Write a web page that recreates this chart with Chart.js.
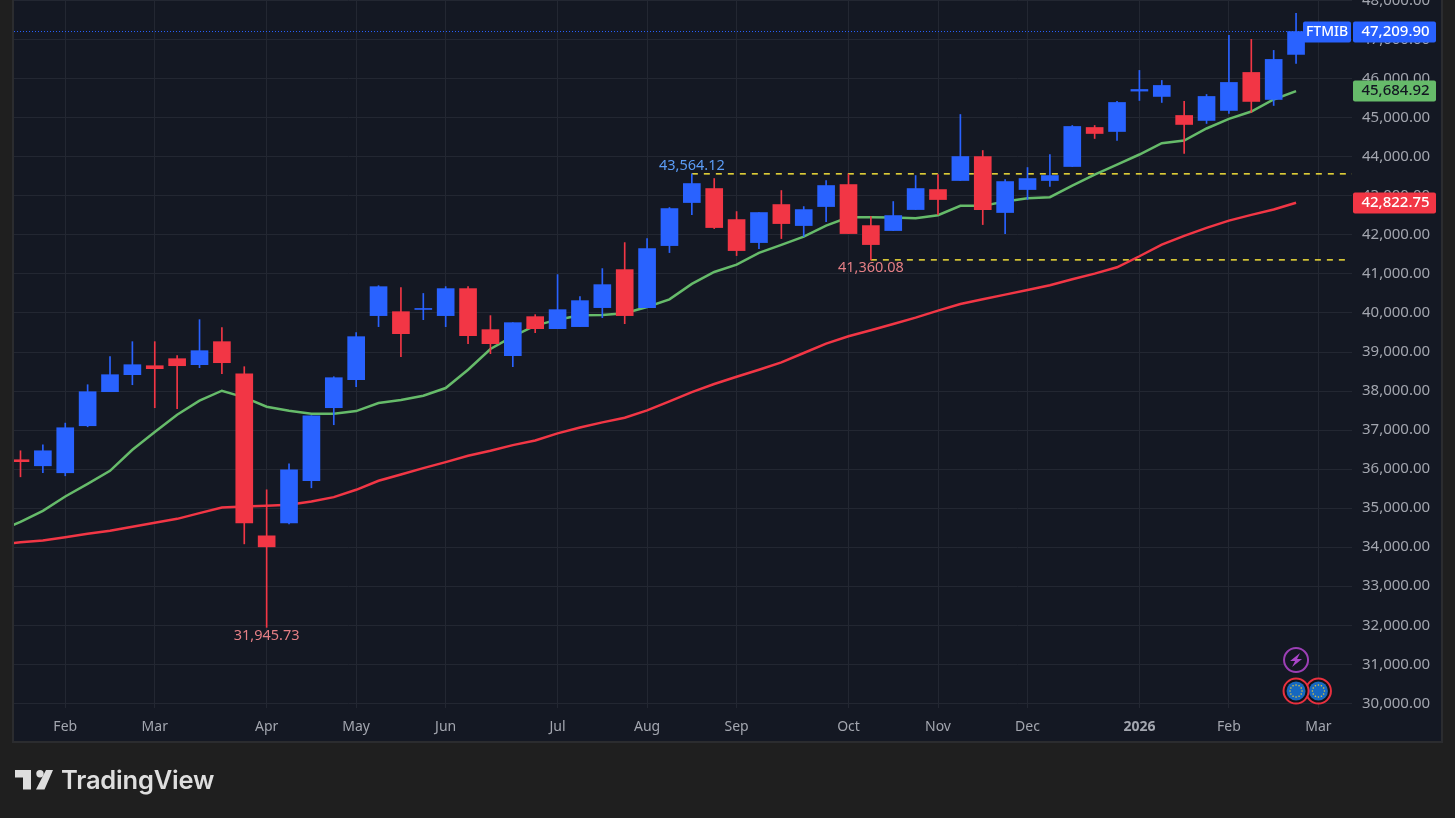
<!DOCTYPE html>
<html>
<head>
<meta charset="utf-8">
<title>FTMIB</title>
<script src="https://cdn.jsdelivr.net/npm/chart.js@4"></script>
<style>
html, body { margin: 0; padding: 0; background: #1f1f1f; overflow: hidden; }
#wrap { position: relative; width: 1455px; height: 818px; }
#myChart { display: block; }
#logoMark { position: absolute; left: 15px; top: 770px; }
#logoText { position: absolute; left: 61px; top: 764px; font: 600 25.5px Inter, sans-serif; color: #dedede; letter-spacing: -0.2px; }
</style>
</head>
<body>
<div id="wrap">
    <canvas id="myChart" width="1455" height="818"></canvas>
    <svg id="logoMark" width="38" height="20" viewBox="0 0 38 20">
        <path d="M0 0H16V19.5H8V7.5H0Z M31 0H38L29.5 19.5H21Z" fill="#dedede"/>
        <circle cx="25" cy="3.7" r="3.7" fill="#dedede"/>
    </svg>
    <div id="logoText">TradingView</div>
</div>
<script>
// weekly candles
var opens = [36240,36085,35906,37111,37983,38419,38649,38829,38675,39265,38444,34291,34624,35701,37573,38291,39932,40033,40090,39932,
    40624,39573,38906,39906,39598,39650,40137,41111,40137,41726,42829,43188,42393,41803,42778,42239,42726,43290,42239,42111,
    42649,43162,43393,44008,42573,43162,43393,43752,44752,44649,45684,45547,45060,44932,45188,46162,45470,46624];
var highs = [36470,36624,37179,38162,38880,39265,39265,38906,39829,39624,38624,35470,36137,37367,38367,39496,40700,40650,40500,40675,
    40675,39932,39752,39957,40983,40419,41137,41803,41906,42701,43564.12,43444,42598,42573,43137,42726,43393,43560,42470,42855,
    43521,43547,45085,44162,43419,43726,44060,44803,44803,45419,46214,45957,45419,45598,47111,47009,46727,47675];
var lows = [35803,35906,35829,37085,37983,38162,37573,37547,38598,38444,34085,31945.73,34598,35521,37137,38111,39650,38880,39829,39650,
    39214,38957,38624,39496,39598,39650,39880,39726,40137,41547,42521,42162,41470,41649,41906,41957,42342,42034,41360.08,42111,
    42649,42521,43393,42265,42034,42906,43239,43752,44470,44419,45444,45393,44085,44855,45111,45137,45316,46393];
var closes = [36190,36470,37060,37983,38419,38675,38573,38649,39034,38726,34624,34009,35983,37367,38342,39393,40674,39470,40116,40624,
    39419,39214,39752,39598,40085,40316,40726,39932,41649,42675,43316,42188,41598,42573,42290,42649,43265,42034,41752,42496,
    43188,42906,44008,42649,43367,43444,43521,44778,44598,45393,45726,45829,44829,45547,45906,45419,46496,47209.90];

// moving averages, first value sits one week before the first candle
var greenMa = [34402,34650,34932,35299,35624,35957,36496,36949,37393,37752,38008,37838,37598,37496,37419,37419,37487,37692,37769,37880,38077,
    38547,39077,39402,39675,39829,39940,39949,39991,40154,40350,40744,41051,41239,41538,41744,41957,42239,42453,42453,42444,
    42427,42504,42744,42744,42855,42940,42966,43265,43547,43803,44060,44350,44419,44726,44974,45162,45470,45684.92];
var redMa = [34060,34128,34171,34256,34342,34419,34521,34624,34726,34872,35017,35043,35060,35085,35171,35282,35470,35701,35863,36026,36179,
    36342,36470,36615,36735,36915,37068,37197,37316,37504,37735,37974,38179,38367,38547,38735,38974,39214,39402,39556,39718,
    39880,40060,40231,40350,40470,40590,40709,40863,41009,41171,41453,41752,41974,42179,42367,42513,42650,42822.75];

var monthWeeks = [2,6,11,15,19,24,28,32,37,41,45,50,54,58];
var monthLabels = ["Feb","Mar","Apr","May","Jun","Jul","Aug","Sep","Oct","Nov","Dec","2026","Feb","Mar"];
var priceTicks = [30000,31000,32000,33000,34000,35000,36000,37000,38000,39000,40000,41000,42000,43000,44000,45000,46000,47000,48000];

var highLevel = 43564.12;
var lowLevel = 41360.08;
var absLow = 31945.73;
var lastPrice = 47209.90;
var lastGreen = 45684.92;
var lastRed = 42822.75;

var BLUE = "#2962ff";
var RED = "#f23645";
var GREEN = "#66bb6a";
var FONT = '"Noto Sans", sans-serif';

function money(v) {
    return v.toLocaleString("en-US", {minimumFractionDigits: 2, maximumFractionDigits: 2});
}

var candleColors = closes.map(function(c, i) { return c >= opens[i] ? BLUE : RED; });

var overlay = {
    id: "overlay",
    beforeDraw: function(chart) {
        var c = chart.ctx;
        c.save();
        c.fillStyle = "#1f1f1f";
        c.fillRect(0, 0, 1455, 818);
        c.fillStyle = "#2b2c2f";
        c.fillRect(12, 0, 1431, 743);
        c.fillStyle = "#141823";
        c.fillRect(14, 0, 1427, 741);
        c.restore();
    },
    afterDraw: function(chart) {
        var c = chart.ctx, xs = chart.scales.x, ys = chart.scales.y;
        c.save();
        c.font = "14.5px " + FONT;
        c.textBaseline = "middle";
        c.textAlign = "center";

        c.fillStyle = "#5b9cf6";
        c.fillText(money(highLevel), xs.getPixelForValue(30), ys.getPixelForValue(highLevel) - 8);
        c.fillStyle = "#e57f85";
        c.fillText(money(lowLevel), xs.getPixelForValue(38), ys.getPixelForValue(lowLevel) + 8);
        c.fillText(money(absLow), xs.getPixelForValue(11), ys.getPixelForValue(absLow) + 9);

        // price tags on the axis
        c.font = "500 15px " + FONT;
        tag(c, 1353, 83, 1, ys.getPixelForValue(lastPrice), money(lastPrice), BLUE, "#ffffff");
        tag(c, 1353, 83, 1, ys.getPixelForValue(lastGreen), money(lastGreen), GREEN, "#131722");
        tag(c, 1353, 83, 1, ys.getPixelForValue(lastRed), money(lastRed), RED, "#ffffff");
        c.font = "500 14px " + FONT;
        tag(c, 1303, 48, 0, ys.getPixelForValue(lastPrice), "FTMIB", BLUE, "#ffffff");

        // event markers
        var x1 = xs.getPixelForValue(57), x2 = xs.getPixelForValue(58);
        c.beginPath();
        c.arc(x1, 660, 12, 0, Math.PI * 2);
        c.fillStyle = "#131722";
        c.fill();
        c.lineWidth = 2;
        c.strokeStyle = "#9c3fb5";
        c.stroke();
        c.beginPath();
        c.moveTo(x1 + 4, 653); c.lineTo(x1 - 6, 661); c.lineTo(x1 - 1, 661);
        c.lineTo(x1 - 4, 667); c.lineTo(x1 + 6, 659); c.lineTo(x1 + 1, 659);
        c.closePath();
        c.fillStyle = "#a845c8";
        c.fill();
        flag(c, x2, 691);
        flag(c, x1, 691);
        c.restore();
    }
};

function tag(c, x, w, dx, y, text, bg, fg) {
    c.fillStyle = bg;
    c.beginPath();
    c.roundRect(x, Math.round(y) - 10.5, w, 21, 2);
    c.fill();
    c.fillStyle = fg;
    c.textAlign = "center";
    c.fillText(text, x + w / 2 + dx, y);
}

function flag(c, x, y) {
    c.beginPath();
    c.arc(x, y, 12.5, 0, Math.PI * 2);
    c.fillStyle = "#10131a";
    c.fill();
    c.lineWidth = 2;
    c.strokeStyle = "#e8303f";
    c.stroke();
    c.beginPath();
    c.arc(x, y, 9.5, 0, Math.PI * 2);
    c.fillStyle = "#1668c0";
    c.fill();
    c.fillStyle = "#e3c83a";
    for (var i = 0; i < 12; i++) {
        var a = i * Math.PI / 6;
        c.beginPath();
        c.arc(x + Math.cos(a) * 6, y + Math.sin(a) * 6, 0.8, 0, Math.PI * 2);
        c.fill();
    }
}

function series(values) {
    return values.map(function(v, i) { return {x: i - 1, y: v}; });
}

function noPadding(scale) {
    scale.paddingTop = 0;
    scale.paddingBottom = 0;
    scale.paddingLeft = 0;
    scale.paddingRight = 0;
}

var ctx = document.getElementById("myChart").getContext("2d");
var myChart = new Chart(ctx, {
    type: "bar",
    plugins: [overlay],
    data: {
        datasets: [
            {
                type: "bar", label: "bodies", order: 0, grouped: false, barThickness: 17,
                data: opens.map(function(o, i) { return {x: i, y: [o, closes[i]]}; }),
                backgroundColor: candleColors, borderWidth: 0
            },
            {
                type: "bar", label: "wicks", order: 1, grouped: false, barThickness: 1,
                data: lows.map(function(l, i) { return {x: i, y: [l, highs[i]]}; }),
                backgroundColor: candleColors, borderWidth: 0
            },
            {
                type: "line", label: "green", order: 2, data: series(greenMa),
                borderColor: GREEN, borderWidth: 2.5, pointRadius: 0, tension: 0
            },
            {
                type: "line", label: "red", order: 2, data: series(redMa),
                borderColor: RED, borderWidth: 2.5, pointRadius: 0, tension: 0
            },
            {
                type: "line", label: "high", order: 3,
                data: [{x: 30, y: highLevel}, {x: 59.5, y: highLevel}],
                borderColor: "#ffeb3b", borderWidth: 1.4, borderDash: [6, 6], pointRadius: 0
            },
            {
                type: "line", label: "low", order: 3,
                data: [{x: 38, y: lowLevel}, {x: 59.2, y: lowLevel}],
                borderColor: "#ffeb3b", borderWidth: 1.4, borderDash: [6, 6], pointRadius: 0
            },
            {
                type: "line", label: "last", order: 3,
                data: [{x: -0.29, y: lastPrice}, {x: 57.3, y: lastPrice}],
                borderColor: BLUE, borderWidth: 1, borderDash: [1, 2], pointRadius: 0
            }
        ]
    },
    options: {
        responsive: false,
        animation: false,
        events: [],
        layout: {padding: {left: 14, right: 0, top: 0, bottom: 0}},
        plugins: {legend: {display: false}, tooltip: {enabled: false}},
        scales: {
            x: {
                type: "linear",
                offset: false,
                min: -0.29,
                max: 59.5,
                afterBuildTicks: function(scale) {
                    scale.ticks = monthWeeks.map(function(w) { return {value: w}; });
                },
                afterFit: function(scale) { scale.height = 110; noPadding(scale); },
                grid: {offset: false, color: "#232732", drawTicks: false},
                border: {display: false},
                ticks: {
                    autoSkip: false,
                    maxRotation: 0,
                    padding: 11,
                    color: "#a3a6af",
                    font: function(c) {
                        return {family: FONT, size: 14, weight: c.tick && c.tick.label === "2026" ? "bold" : "normal"};
                    },
                    callback: function(value) {
                        return monthLabels[monthWeeks.indexOf(value)];
                    }
                }
            },
            y: {
                position: "right",
                min: 29880,
                max: 48018,
                afterBuildTicks: function(scale) {
                    scale.ticks = priceTicks.map(function(p) { return {value: p}; });
                },
                afterFit: function(scale) { scale.width = 103; noPadding(scale); },
                grid: {color: "#232732", drawTicks: false},
                border: {display: false},
                ticks: {
                    autoSkip: false,
                    padding: 10,
                    color: "#a3a6af",
                    font: {family: FONT, size: 15},
                    callback: function(value) { return money(value); }
                }
            }
        }
    }
});
</script>
</body>
</html>
